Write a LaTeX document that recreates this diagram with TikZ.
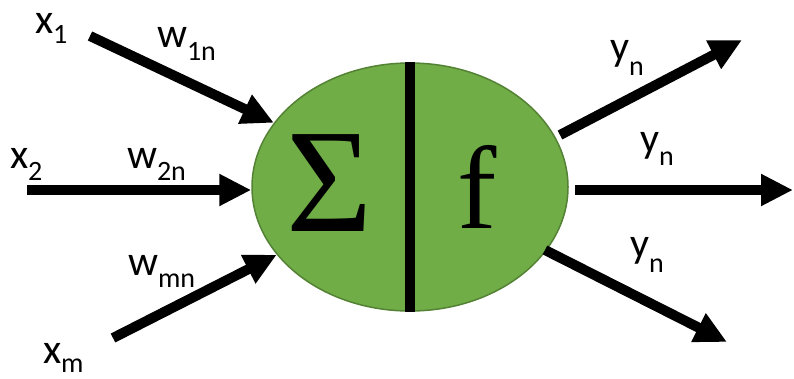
\documentclass[tikz,border=0pt]{standalone}
\usepackage{fontspec}
\setmainfont{Carlito}
\newfontfamily\serifsym{Liberation Serif}
\usetikzlibrary{arrows.meta,shapes.geometric}
\definecolor{nfill}{HTML}{70AD47}
\definecolor{nborder}{HTML}{548235}
\newcommand{\lbl}[3][12pt]{{\fontsize{42}{42}\selectfont #2}\raisebox{-#1}{\fontsize{28}{28}\selectfont #3}}
\tikzset{
  conn/.style={line width=10pt, -{Triangle[length=32pt,width=30pt]}},
  lab/.style={anchor=base west, inner sep=0pt, outer sep=0pt},
  neuronstyle/.style={ellipse, fill=nfill, draw=nborder, line width=1.5pt,
    minimum width=316pt, minimum height=248pt, inner sep=0pt}
}
\begin{document}
\begin{tikzpicture}[x=1pt,y=-1pt]
\useasboundingbox (0,0) rectangle (794,378);
\node[neuronstyle] (neuron) at (410,187) {};
\draw[line width=10pt] (neuron.north) -- (neuron.south);
\node[inner sep=0pt] (sig) at (330,183) {\fontsize{148}{148}\selectfont\serifsym Σ};
\node[inner sep=0pt] (fn) at (477,187) {\fontsize{118}{118}\selectfont\serifsym f};
% inputs
\coordinate (in1) at (90,36);
\coordinate (in2) at (27,190);
\coordinate (in3) at (113,338);
\draw[conn] (in1) -- (neuron);
\draw[conn] (in2) -- (neuron.west |- in2);
\draw[conn] (in3) -- (neuron);
% outputs
\coordinate (o1a) at (560,135);
\coordinate (o1b) at (742,40);
\coordinate (o2a) at (575,190);
\coordinate (o2b) at (793,190);
\coordinate (o3a) at (545,250);
\coordinate (o3b) at (727,342);
\draw[conn] (o1a) -- (o1b);
\draw[conn] (o2a) -- (o2b);
\draw[conn] (o3a) -- (o3b);
% labels
\node[lab] (lx1) at (35,33) {\lbl[10pt]{x}{1}};
\node[lab] (lw1) at (157,47) {\lbl[13pt]{w}{1n}};
\node[lab] (lx2) at (10,168) {\lbl{x}{2}};
\node[lab] (lw2) at (127,168) {\lbl{w}{2n}};
\node[lab] (lwm) at (128,275) {\lbl{w}{mn}};
\node[lab] (lxm) at (43,363) {\lbl[9pt]{x}{m}};
\node[lab] (ly1) at (610,60) {\lbl[15pt]{y}{n}};
\node[lab] (ly2) at (640,152) {\lbl[13pt]{y}{n}};
\node[lab] (ly3) at (630,257) {\lbl[15pt]{y}{n}};
\end{tikzpicture}
\end{document}
